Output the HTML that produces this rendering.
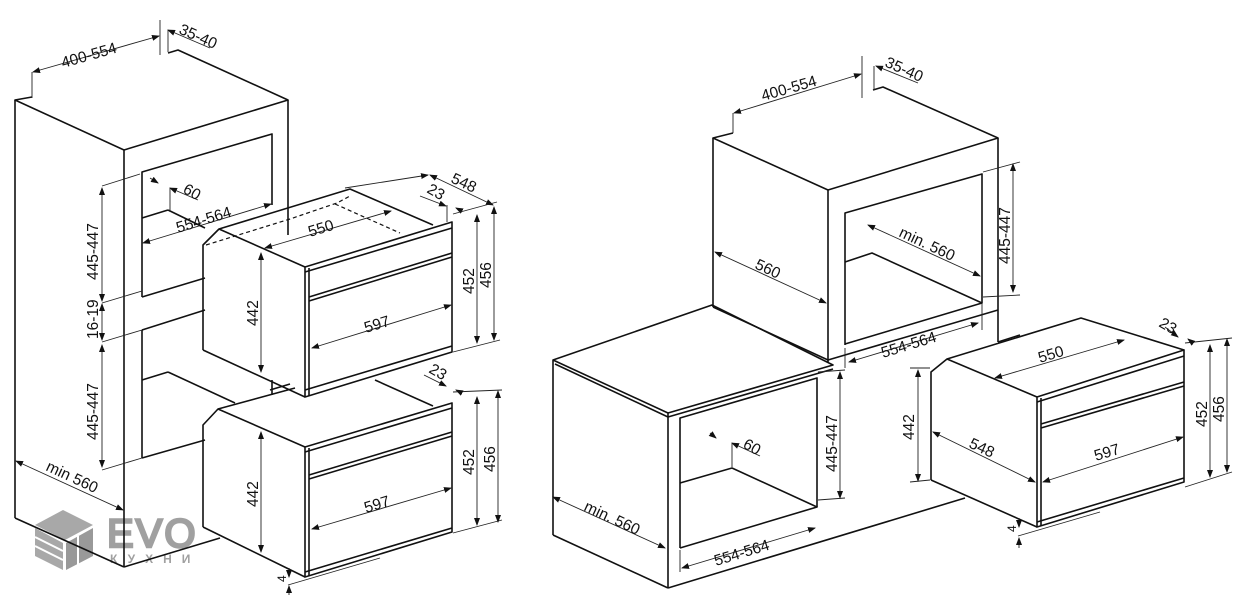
<!DOCTYPE html>
<html><head><meta charset="utf-8"><style>
html,body{margin:0;padding:0;background:#fff;}
svg{display:block;}
text{font-family:"Liberation Sans",sans-serif;font-size:15.5px;fill:#111;}
.l{fill:none;stroke:#111;stroke-width:1.6;stroke-linejoin:round;}
.t{fill:none;stroke:#222;stroke-width:0.9;}
.d{fill:none;stroke:#111;stroke-width:1.2;stroke-dasharray:4 3;}
</style></head><body>
<svg width="1238" height="600" viewBox="0 0 1238 600" xmlns="http://www.w3.org/2000/svg">
<defs>
<marker id="a" markerWidth="8" markerHeight="8" refX="7" refY="3" orient="auto-start-reverse" markerUnits="userSpaceOnUse"><path d="M0,0 L8,3 L0,6 z" fill="#111"/></marker>
</defs>
<!-- LEFT logo -->
<g fill="#a8a8a8">
<polygon points="35,525 63,510 93,525 65,540"/>
<polygon points="35,528 63,543 63,570 35,556"/>
<polygon points="66,543 93,528 93,556 66,570" fill="#999"/>
</g>
<g stroke="#fff" stroke-width="2"><line x1="35" y1="537" x2="63" y2="551"/><line x1="35" y1="546" x2="63" y2="560"/><line x1="78" y1="536" x2="78" y2="566"/></g>
<text x="107" y="547" style="font-size:40px;fill:#a0a0a0;letter-spacing:2px;stroke:#a0a0a0;stroke-width:2.5">EVO</text>
<text x="110" y="563" style="font-size:12px;fill:#a0a0a0;letter-spacing:10px;font-weight:bold">КУХНИ</text>

<!-- LEFT cabinet -->
<polyline class="l" points="32,97 15,100 124,150 288,100 178,50 168,53"/>
<line class="l" x1="15" y1="100" x2="15" y2="518"/>
<line class="l" x1="15" y1="518" x2="124" y2="567"/>
<line class="l" x1="124" y1="150" x2="124" y2="567"/>
<line class="l" x1="288" y1="100" x2="288" y2="235"/>
<line class="l" x1="124" y1="567" x2="220" y2="538"/>
<polyline class="l" points="142,297 142,172 272,134 272,205"/>
<line class="l" x1="142" y1="218" x2="168" y2="210"/>
<line class="l" x1="168" y1="210" x2="205" y2="228"/>
<line class="l" x1="142" y1="297" x2="205" y2="278"/>
<line class="l" x1="142" y1="330" x2="205" y2="310"/>
<polyline class="l" points="142,458 142,330"/>
<line class="l" x1="142" y1="380" x2="168" y2="372"/>
<line class="l" x1="168" y1="372" x2="235" y2="403"/>
<line class="l" x1="142" y1="458" x2="205" y2="440"/>
<line class="l" x1="272" y1="380" x2="272" y2="395"/>
<line class="l" x1="270" y1="390" x2="290" y2="384"/>
<!-- dims left cabinet -->
<line class="t" x1="32" y1="72" x2="32" y2="98"/>
<line class="t" x1="160" y1="20" x2="160" y2="55"/>
<line class="t" x1="168" y1="30" x2="168" y2="52"/>
<line class="t" x1="33" y1="72" x2="159" y2="36" marker-start="url(#a)" marker-end="url(#a)"/>
<line class="t" x1="168" y1="30" x2="210" y2="48" marker-start="url(#a)"/>
<text transform="translate(63,68) rotate(-16)">400-554</text>
<text transform="translate(178,33) rotate(24)">35-40</text>
<line class="t" x1="102" y1="186" x2="140" y2="174"/>
<line class="t" x1="102" y1="303" x2="142" y2="291"/>
<line class="t" x1="102" y1="342" x2="142" y2="330"/>
<line class="t" x1="102" y1="470" x2="142" y2="458"/>
<line class="t" x1="102" y1="188" x2="102" y2="301" marker-start="url(#a)" marker-end="url(#a)"/>
<line class="t" x1="102" y1="304" x2="102" y2="340" marker-start="url(#a)" marker-end="url(#a)"/>
<line class="t" x1="102" y1="345" x2="102" y2="467" marker-start="url(#a)" marker-end="url(#a)"/>
<text transform="translate(98,280) rotate(-90)">445-447</text>
<text transform="translate(98,339) rotate(-90)">16-19</text>
<text transform="translate(98,440) rotate(-90)">445-447</text>
<line class="t" x1="16" y1="461" x2="123" y2="510" marker-start="url(#a)" marker-end="url(#a)"/>
<text transform="translate(45,470) rotate(25)">min 560</text>
<line class="t" x1="150" y1="178" x2="158" y2="183" marker-end="url(#a)"/>
<line class="t" x1="170" y1="188" x2="170" y2="212"/>
<line class="t" x1="170" y1="188" x2="198" y2="200" marker-start="url(#a)"/>
<text transform="translate(182,192) rotate(30)">60</text>
<line class="t" x1="143" y1="243" x2="271" y2="204" marker-start="url(#a)" marker-end="url(#a)"/>
<text transform="translate(178,233) rotate(-17)">554-564</text>

<!-- upper oven -->
<polyline class="l" points="203,350 203,245 219,229 350,189 433,225"/>
<line class="l" x1="219" y1="229" x2="305" y2="267"/>
<line class="l" x1="203" y1="350" x2="305" y2="397"/>
<polygon class="l" points="305,267 452,222 452,352 305,397"/>
<line class="l" x1="305" y1="272" x2="452" y2="228"/>
<line class="l" x1="309" y1="268" x2="309" y2="396"/>
<line class="l" x1="309" y1="297" x2="452" y2="253"/>
<line class="l" x1="309" y1="301" x2="452" y2="257"/>
<line class="l" x1="305" y1="390" x2="452" y2="346"/>
<polyline class="d" points="206,245 290,219 337,203 350,196"/>
<polyline class="d" points="335,204 400,233"/>
<line class="t" x1="265" y1="248" x2="391" y2="211" marker-start="url(#a)" marker-end="url(#a)"/>
<text transform="translate(310,237) rotate(-17)">550</text>
<line class="t" x1="345" y1="188" x2="428" y2="175" marker-end="url(#a)"/>
<line class="t" x1="430" y1="175" x2="493" y2="205" marker-start="url(#a)" marker-end="url(#a)"/>
<text transform="translate(450,182) rotate(25)">548</text>
<line class="t" x1="420" y1="196" x2="446" y2="206" marker-end="url(#a)"/>
<line class="t" x1="456" y1="208" x2="462" y2="211" marker-start="url(#a)"/>
<line class="t" x1="447" y1="205" x2="447" y2="222"/>
<text transform="translate(426,192) rotate(30)">23</text>
<line class="t" x1="453" y1="214" x2="497" y2="202"/>
<line class="t" x1="453" y1="352" x2="500" y2="340"/>
<line class="t" x1="477" y1="215" x2="477" y2="343" marker-start="url(#a)" marker-end="url(#a)"/>
<line class="t" x1="494" y1="207" x2="494" y2="340" marker-start="url(#a)" marker-end="url(#a)"/>
<text transform="translate(474,294) rotate(-90)">452</text>
<text transform="translate(491,288) rotate(-90)">456</text>
<line class="t" x1="261" y1="253" x2="261" y2="372" marker-start="url(#a)" marker-end="url(#a)"/>
<text transform="translate(258,326) rotate(-90)">442</text>
<line class="t" x1="312" y1="348" x2="451" y2="305" marker-start="url(#a)" marker-end="url(#a)"/>
<text transform="translate(366,333) rotate(-17)">597</text>

<!-- lower oven -->
<polyline class="l" points="203,527 203,425 218,409 295,388"/>
<line class="l" x1="218" y1="409" x2="305" y2="447"/>
<line class="l" x1="203" y1="527" x2="305" y2="577"/>
<line class="l" x1="375" y1="380" x2="433" y2="406"/>
<polygon class="l" points="305,447 452,403 452,532 305,577"/>
<line class="l" x1="305" y1="452" x2="452" y2="408"/>
<line class="l" x1="309" y1="448" x2="309" y2="576"/>
<line class="l" x1="309" y1="475" x2="452" y2="432"/>
<line class="l" x1="309" y1="479" x2="452" y2="436"/>
<line class="l" x1="305" y1="572" x2="452" y2="528"/>
<line class="t" x1="261" y1="432" x2="261" y2="552" marker-start="url(#a)" marker-end="url(#a)"/>
<text transform="translate(258,507) rotate(-90)">442</text>
<line class="t" x1="312" y1="529" x2="451" y2="488" marker-start="url(#a)" marker-end="url(#a)"/>
<text transform="translate(366,513) rotate(-17)">597</text>
<line class="t" x1="453" y1="392" x2="502" y2="390"/>
<line class="t" x1="453" y1="533" x2="502" y2="520"/>
<line class="t" x1="477" y1="397" x2="477" y2="525" marker-start="url(#a)" marker-end="url(#a)"/>
<line class="t" x1="498" y1="391" x2="498" y2="522" marker-start="url(#a)" marker-end="url(#a)"/>
<text transform="translate(474,475) rotate(-90)">452</text>
<text transform="translate(495,472) rotate(-90)">456</text>
<line class="t" x1="424" y1="375" x2="446" y2="386" marker-end="url(#a)"/>
<line class="t" x1="456" y1="390" x2="462" y2="393" marker-start="url(#a)"/>
<text transform="translate(428,372) rotate(30)">23</text>
<line class="t" x1="288" y1="585" x2="380" y2="558"/>
<line class="t" x1="289" y1="568" x2="289" y2="577" marker-end="url(#a)"/>
<line class="t" x1="289" y1="595" x2="289" y2="586" marker-end="url(#a)"/>
<text transform="translate(286,582) rotate(-90)" style="font-size:12px">4</text>

<!-- RIGHT tall cabinet -->
<polyline class="l" points="733,133 713,138 828,190 998,138 883,87 873,90"/>
<line class="l" x1="713" y1="138" x2="713" y2="307"/>
<line class="l" x1="828" y1="190" x2="828" y2="362"/>
<line class="l" x1="998" y1="138" x2="998" y2="342"/>
<line class="l" x1="713" y1="307" x2="828" y2="360"/>
<polyline class="l" points="845,345 845,213 982,174 982,303 845,344"/>
<polyline class="l" points="845,262 872,253 982,303"/>
<line class="l" x1="828" y1="360" x2="998" y2="310"/>
<line class="l" x1="998" y1="342" x2="1020" y2="335"/>
<line class="t" x1="733" y1="113" x2="733" y2="133"/>
<line class="t" x1="862" y1="56" x2="862" y2="98"/>
<line class="t" x1="874" y1="66" x2="874" y2="90"/>
<line class="t" x1="734" y1="113" x2="861" y2="74" marker-start="url(#a)" marker-end="url(#a)"/>
<text transform="translate(763,101) rotate(-16)">400-554</text>
<line class="t" x1="876" y1="66" x2="918" y2="83" marker-start="url(#a)"/>
<text transform="translate(884,66) rotate(24)">35-40</text>
<line class="t" x1="715" y1="252" x2="826" y2="303" marker-start="url(#a)" marker-end="url(#a)"/>
<text transform="translate(754,268) rotate(25)">560</text>
<line class="t" x1="868" y1="225" x2="980" y2="276" marker-start="url(#a)" marker-end="url(#a)"/>
<text transform="translate(898,236) rotate(25)">min. 560</text>
<line class="t" x1="983" y1="172" x2="1020" y2="162"/>
<line class="t" x1="983" y1="297" x2="1020" y2="295"/>
<line class="t" x1="1013" y1="164" x2="1013" y2="292" marker-start="url(#a)" marker-end="url(#a)"/>
<text transform="translate(1010,264) rotate(-90)">445-447</text>
<line class="t" x1="845" y1="348" x2="845" y2="368"/>
<line class="t" x1="982" y1="303" x2="982" y2="330"/>
<line class="t" x1="849" y1="362" x2="978" y2="323" marker-start="url(#a)" marker-end="url(#a)"/>
<text transform="translate(883,358) rotate(-17)">554-564</text>

<!-- RIGHT lower cabinet -->
<polyline class="l" points="553,535 553,360 712,305 833,365 668,413 553,360"/>
<line class="l" x1="555" y1="364" x2="668" y2="417"/>
<line class="l" x1="668" y1="417" x2="833" y2="369"/>
<line class="l" x1="553" y1="535" x2="668" y2="588"/>
<line class="l" x1="668" y1="413" x2="668" y2="588"/>
<line class="l" x1="668" y1="588" x2="965" y2="498"/>
<polyline class="l" points="680,548 680,418 817,378 817,507"/>
<polyline class="l" points="680,483 732,468 817,507 680,548"/>
<line class="t" x1="680" y1="550" x2="680" y2="572"/>
<line class="t" x1="682" y1="568" x2="815" y2="528" marker-start="url(#a)" marker-end="url(#a)"/>
<text transform="translate(716,566) rotate(-17)">554-564</text>
<line class="t" x1="818" y1="372" x2="845" y2="370"/>
<line class="t" x1="818" y1="500" x2="845" y2="498"/>
<line class="t" x1="840" y1="372" x2="840" y2="498" marker-start="url(#a)" marker-end="url(#a)"/>
<text transform="translate(837,472) rotate(-90)">445-447</text>
<line class="t" x1="553" y1="497" x2="665" y2="548" marker-start="url(#a)" marker-end="url(#a)"/>
<text transform="translate(583,510) rotate(25)">min. 560</text>
<line class="t" x1="710" y1="433" x2="716" y2="438" marker-end="url(#a)"/>
<line class="t" x1="732" y1="443" x2="732" y2="467"/>
<line class="t" x1="732" y1="443" x2="760" y2="456" marker-start="url(#a)"/>
<text transform="translate(742,447) rotate(30)">60</text>

<!-- RIGHT oven -->
<polyline class="l" points="931,480 931,372 947,359 1081,318 1184,350"/>
<line class="l" x1="947" y1="359" x2="1037" y2="397"/>
<line class="l" x1="931" y1="480" x2="1037" y2="527"/>
<polygon class="l" points="1037,397 1184,350 1184,482 1037,527"/>
<line class="l" x1="1037" y1="402" x2="1184" y2="356"/>
<line class="l" x1="1041" y1="398" x2="1041" y2="526"/>
<line class="l" x1="1041" y1="424" x2="1184" y2="382"/>
<line class="l" x1="1041" y1="428" x2="1184" y2="386"/>
<line class="l" x1="1037" y1="522" x2="1184" y2="478"/>
<line class="t" x1="995" y1="378" x2="1124" y2="340" marker-start="url(#a)" marker-end="url(#a)"/>
<text transform="translate(1040,363) rotate(-17)">550</text>
<line class="t" x1="933" y1="432" x2="1035" y2="482" marker-start="url(#a)" marker-end="url(#a)"/>
<text transform="translate(968,447) rotate(25)">548</text>
<line class="t" x1="1043" y1="482" x2="1183" y2="437" marker-start="url(#a)" marker-end="url(#a)"/>
<text transform="translate(1096,461) rotate(-17)">597</text>
<line class="t" x1="910" y1="368" x2="930" y2="368"/>
<line class="t" x1="910" y1="482" x2="930" y2="480"/>
<line class="t" x1="918" y1="370" x2="918" y2="481" marker-start="url(#a)" marker-end="url(#a)"/>
<text transform="translate(914,440) rotate(-90)">442</text>
<line class="t" x1="1185" y1="343" x2="1232" y2="338"/>
<line class="t" x1="1185" y1="487" x2="1232" y2="472"/>
<line class="t" x1="1210" y1="345" x2="1210" y2="477" marker-start="url(#a)" marker-end="url(#a)"/>
<line class="t" x1="1227" y1="339" x2="1227" y2="472" marker-start="url(#a)" marker-end="url(#a)"/>
<text transform="translate(1207,427) rotate(-90)">452</text>
<text transform="translate(1224,422) rotate(-90)">456</text>
<line class="t" x1="1165" y1="327" x2="1178" y2="337" marker-end="url(#a)"/>
<line class="t" x1="1188" y1="339" x2="1193" y2="343" marker-start="url(#a)"/>
<text transform="translate(1158,326) rotate(30)">23</text>
<line class="t" x1="1018" y1="536" x2="1100" y2="512"/>
<line class="t" x1="1019" y1="518" x2="1019" y2="527" marker-end="url(#a)"/>
<line class="t" x1="1019" y1="548" x2="1019" y2="538" marker-end="url(#a)"/>
<text transform="translate(1016,532) rotate(-90)" style="font-size:12px">4</text>
</svg>
</body></html>
